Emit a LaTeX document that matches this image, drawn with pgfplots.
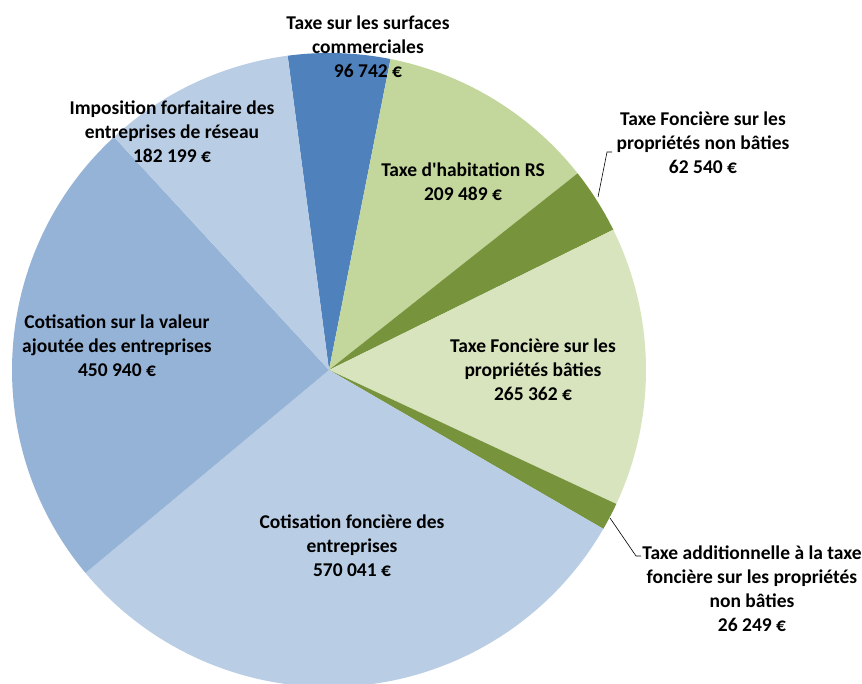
\documentclass[border=0pt]{standalone}
\usepackage{pgfplots}
\usepackage{pgfplotstable}
\usepackage{fontspec}
\setmainfont{Carlito}
\pgfplotsset{compat=1.18}

\definecolor{tsc}{HTML}{4F81BD}
\definecolor{th}{HTML}{C3D69B}
\definecolor{tfnb}{HTML}{77933C}
\definecolor{tfb}{HTML}{D7E4BD}
\definecolor{ta}{HTML}{77933C}
\definecolor{cfe}{HTML}{B9CDE5}
\definecolor{cvae}{HTML}{95B3D7}
\definecolor{ifer}{HTML}{B9CDE5}

% slices, clockwise from the top
\pgfplotstableread{
value  color
96742  tsc
209489 th
62540  tfnb
265362 tfb
26249  ta
570041 cfe
450940 cvae
182199 ifer
}\piedata

\begin{document}
\begin{tikzpicture}
\begin{axis}[
  scale only axis,
  width=862pt, height=684pt,
  xmin=0, xmax=862, ymin=0, ymax=684,
  y dir=reverse,
  hide axis,
  clip=true,
  nodes={font=\bfseries\fontsize{19.5}{24}\selectfont, align=center},
]
  \path (axis cs:0,0) (axis cs:862,684);

  \pgfplotstablegetrowsof{\piedata}
  \pgfmathtruncatemacro\lastrow{\pgfplotsretval-1}
  \def\total{0}
  \pgfplotsforeachungrouped \i in {0,...,\lastrow}{%
    \pgfplotstablegetelem{\i}{value}\of\piedata
    \edef\total{\fpeval{\total+\pgfplotsretval}}%
  }
  \def\startangle{97.5}
  \pgfplotsforeachungrouped \i in {0,...,\lastrow}{%
    \pgfplotstablegetelem{\i}{value}\of\piedata \let\v\pgfplotsretval
    \pgfplotstablegetelem{\i}{color}\of\piedata \let\c\pgfplotsretval
    \edef\endangle{\fpeval{\startangle-360*\v/\total}}%
    \edef\temp{\noexpand\fill[\c] (axis cs:329,370) -- ++(\startangle:317pt)
      arc[start angle=\startangle, end angle=\endangle, radius=317pt] -- cycle;}%
    \temp
    \global\let\startangle\endangle
  }

  % leader lines
  \draw[black, semithick] (axis cs:598,197) -- (axis cs:607,152) -- (axis cs:612,152);
  \draw[black, semithick] (axis cs:610,518) -- (axis cs:636,556) -- (axis cs:641,556);

  \node at (axis cs:368,46.5) {Taxe sur les surfaces\\commerciales\\96 742 €};
  \node at (axis cs:172,132) {Imposition forfaitaire des\\entreprises de réseau\\182 199 €};
  \node at (axis cs:463,182) {Taxe d\textquotesingle habitation RS\\209 489 €};
  \node at (axis cs:703,143) {Taxe Foncière sur les\\propriétés non bâties\\62 540 €};
  \node at (axis cs:533,370) {Taxe Foncière sur les\\propriétés bâties\\265 362 €};
  \node at (axis cs:752,589) {Taxe additionnelle à la taxe\\foncière sur les propriétés\\non bâties\\26 249 €};
  \node at (axis cs:352,546) {Cotisation foncière des\\entreprises\\570 041 €};
  \node at (axis cs:117,346) {Cotisation sur la valeur\\ajoutée des entreprises\\450 940 €};
\end{axis}
\end{tikzpicture}
\end{document}
